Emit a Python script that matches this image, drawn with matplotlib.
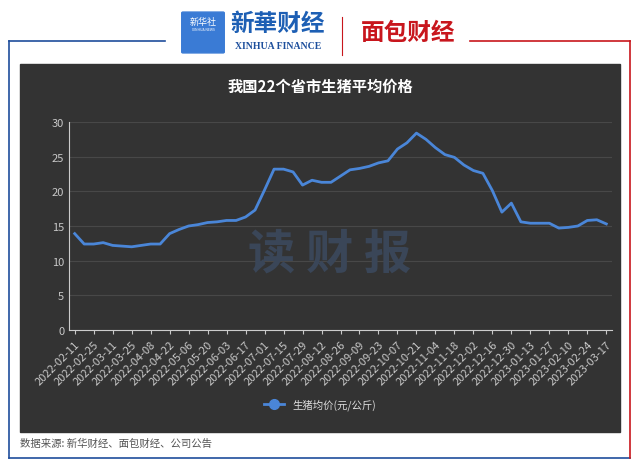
import matplotlib.pyplot as plt
from matplotlib.patches import Rectangle, FancyBboxPatch
from matplotlib.lines import Line2D

plt.rcParams['font.family'] = ['Noto Sans CJK SC', 'DejaVu Sans']

dates = [
    "2022-02-11", "2022-02-18", "2022-02-25", "2022-03-04", "2022-03-11", "2022-03-18",
    "2022-03-25", "2022-04-01", "2022-04-08", "2022-04-15", "2022-04-22", "2022-04-29",
    "2022-05-06", "2022-05-13", "2022-05-20", "2022-05-27", "2022-06-03", "2022-06-10",
    "2022-06-17", "2022-06-24", "2022-07-01", "2022-07-08", "2022-07-15", "2022-07-22",
    "2022-07-29", "2022-08-05", "2022-08-12", "2022-08-19", "2022-08-26", "2022-09-02",
    "2022-09-09", "2022-09-16", "2022-09-23", "2022-09-30", "2022-10-07", "2022-10-14",
    "2022-10-21", "2022-10-28", "2022-11-04", "2022-11-11", "2022-11-18", "2022-11-25",
    "2022-12-02", "2022-12-09", "2022-12-16", "2022-12-23", "2022-12-30", "2023-01-06",
    "2023-01-13", "2023-01-20", "2023-01-27", "2023-02-03", "2023-02-10", "2023-02-17",
    "2023-02-24", "2023-03-03", "2023-03-17",
]
prices = [
    13.9, 12.4, 12.4, 12.6, 12.2, 12.1, 12.0, 12.2, 12.4, 12.4,
    13.9, 14.5, 15.0, 15.2, 15.5, 15.6, 15.8, 15.8, 16.3, 17.3,
    20.2, 23.2, 23.2, 22.8, 20.9, 21.6, 21.3, 21.3, 22.2, 23.1,
    23.3, 23.6, 24.1, 24.4, 26.1, 27.0, 28.4, 27.5, 26.3, 25.3,
    24.9, 23.8, 23.0, 22.6, 20.1, 17.0, 18.3, 15.6, 15.4, 15.4,
    15.4, 14.7, 14.8, 15.0, 15.8, 15.9, 15.3,
]

W, H = 640, 464
fig = plt.figure(figsize=(6.4, 4.64), dpi=100)
fig.patch.set_facecolor("white")


def fx(x):
    return x / W


def fy(y):
    return 1 - y / H


# frame
blue = "#1f4e9c"
red = "#c8161d"
fig.add_artist(Line2D([fx(9), fx(165)], [fy(42), fy(42)], color=blue, lw=1.2))
fig.add_artist(Line2D([fx(9), fx(9)], [fy(42), fy(459)], color=blue, lw=1.2))
fig.add_artist(Line2D([fx(9), fx(630)], [fy(459), fy(459)], color=blue, lw=1.2))
fig.add_artist(Line2D([fx(470), fx(630)], [fy(42), fy(42)], color=red, lw=1.2))
fig.add_artist(Line2D([fx(630), fx(630)], [fy(42), fy(459)], color=red, lw=1.2))

# header logos
fig.add_artist(FancyBboxPatch((fx(183), fy(53)), fx(40), 39 / H, boxstyle="round,pad=0.002",
                              transform=fig.transFigure, color="#3a7bd5"))
fig.text(fx(203), fy(22), "新华社", color="white", fontsize=6.5, ha="center", va="center")
fig.text(fx(203), fy(30), "XINHUA NEWS", color="white", fontsize=2.5, ha="center", va="center")
fig.text(fx(278), fy(24), "新華财经", color="#1d5fb4", fontsize=17, ha="center", va="center",
         style="italic", fontweight="bold")
fig.text(fx(278), fy(47), "XINHUA FINANCE", color="#1d4f9c", fontsize=7, ha="center",
         va="center", family="Liberation Serif", fontweight="bold")
fig.add_artist(Line2D([fx(342), fx(342)], [fy(18), fy(56)], color="#c8161d", lw=0.8))
fig.text(fx(408), fy(33), "面包财经", color="#c8161d", fontsize=17, ha="center", va="center",
         fontweight="bold")

# dark panel
fig.add_artist(Rectangle((fx(20), fy(433)), fx(600), (433 - 65) / H,
                         transform=fig.transFigure, color="#333333", zorder=0))
fig.text(fx(320), fy(87), "我国22个省市生猪平均价格", color="white", fontsize=11,
         fontweight="bold", ha="center", va="center")
fig.text(fx(330), fy(255), "读 财 报", color="#3a4658", fontsize=34, fontweight="bold",
         ha="center", va="center")

ax = fig.add_axes([fx(69), fy(331), fx(612 - 69), (331 - 123) / H])
ax.set_facecolor("none")
x = list(range(len(dates)))
line, = ax.plot(x, prices, color="#4a86d8", lw=2, zorder=3)
ax.set_xlim(-0.6, len(dates) - 0.4)
ax.set_ylim(0, 30)
ax.set_yticks(range(0, 31, 5))
ax.grid(axis="y", color="#484848", lw=0.8)
ax.set_xticks(x[::2])
ax.set_xticklabels(dates[::2], rotation=45, ha="right", rotation_mode="anchor")
ax.tick_params(colors="#c8c8c8", labelsize=8, length=3)
ax.tick_params(axis="y", length=0)
for side in ["top", "right"]:
    ax.spines[side].set_visible(False)
for side in ["left", "bottom"]:
    ax.spines[side].set_color("#cccccc")

fig.legend([Line2D([0], [0], color="#4a86d8", lw=2, marker="o", markersize=7)],
           ["生猪均价(元/公斤)"], loc="center", bbox_to_anchor=(fx(320), fy(405)),
           frameon=False, labelcolor="#dddddd", fontsize=7.5, handlelength=2)

fig.text(fx(20), fy(444), "数据来源: 新华财经、面包财经、公司公告", color="#555555",
         fontsize=7.5, va="center")

fig.savefig("out.png", dpi=100, facecolor="white")
